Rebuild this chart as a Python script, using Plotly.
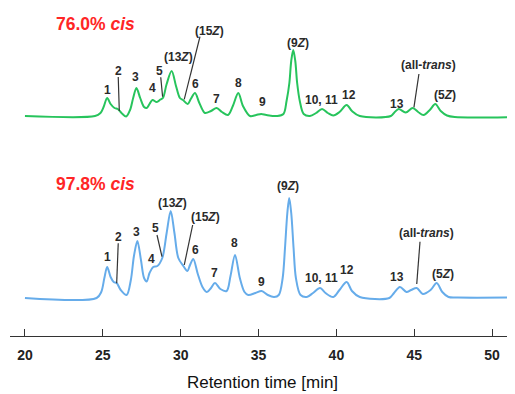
import plotly.graph_objects as go

# ---- data (time [min], signal [a.u.]) ----
green_t = [20.0, 24.5, 24.85, 25.05, 25.28, 25.5, 25.75, 25.96, 26.2, 26.5, 26.75, 26.95, 27.16,
           27.4, 27.65, 27.82, 28.0, 28.19, 28.46, 28.7, 28.86, 29.1, 29.42, 29.7, 29.95, 30.15,
           30.45, 30.65, 30.92, 31.2, 31.56, 31.95, 32.31, 32.65, 33.04, 33.35, 33.7, 34.0, 34.45,
           34.85, 35.17, 35.5, 36.2, 36.6, 36.8, 36.98, 37.1, 37.23, 37.36, 37.48, 37.65, 37.9,
           38.3, 38.7, 39.08, 39.45, 39.8, 40.2, 40.66, 41.0, 41.5, 43.5, 43.75, 44.0, 44.45,
           44.9, 45.25, 45.6, 46.0, 46.35, 46.7, 47.1, 47.6, 51.5]
green_s = [0, 0, 3, 9, 18, 12, 8, 7, 3, -0.5, 6, 18, 28,
           18, 9, 8, 12, 16, 14, 16.5, 18, 32, 45, 30, 18, 16,
           12, 17, 23, 13, 3, 5, 8, 4, 1, 10, 23, 10, 0,
           1, 2, 1, 0, 2, 15, 33, 55, 66, 55, 33, 15, 2,
           0, 3, 7, 3, 0.5, 4, 11, 5, 0, 0, 4, 7, 3.5,
           8, 4, 1, 6, 12, 5, 0.5, -1, -1]

blue_t = [20.0, 24.6, 24.9, 25.1, 25.28, 25.5, 25.7, 25.89, 26.15, 26.53, 26.8, 27.0, 27.22,
          27.45, 27.65, 27.82, 28.0, 28.24, 28.5, 28.82, 29.1, 29.36, 29.6, 29.85, 30.17, 30.43,
          30.6, 30.81, 31.1, 31.4, 31.67, 31.95, 32.2, 32.55, 32.95, 33.2, 33.49, 33.8, 34.1,
          34.34, 34.8, 35.2, 35.6, 36.0, 36.3, 36.55, 36.7, 36.85, 36.97, 37.1, 37.25, 37.4,
          37.7, 38.1, 38.5, 38.95, 39.3, 39.8, 40.2, 40.66, 41.0, 41.5, 43.4, 43.7, 44.08,
          44.5, 44.8, 45.16, 45.55, 46.05, 46.44, 46.8, 47.2, 47.8, 51.5]
blue_s = [0, 0, 6, 20, 31, 21, 16, 15, 8, 3, 18, 42, 57,
          38, 20, 16.6, 25, 31, 32, 40, 65, 87, 65, 40, 32, 27,
          33, 39, 24, 11, 6, 10, 15, 9, 7, 22, 43, 20, 6,
          3, 5, 7, 3, 1, 3, 20, 50, 85, 100, 85, 50, 20,
          3, 1, 5, 10, 5, 1, 8, 16, 7, 1, 0, 5, 11,
          6, 8, 10, 4, 8, 15, 6, 1, 0.5, 0.5]

# peak labels: (text, time, height) per trace
green_labels = [("1", 25.29, 26), ("2", 25.99, 45), ("3", 27.07, 38.7), ("4", 28.18, 27.7),
                ("5", 28.63, 45.3), ("(13<i>Z</i>)", 29.85, 58.7), ("(15<i>Z</i>)", 31.84, 85.3),
                ("6", 30.98, 31.7), ("7", 32.31, 16.7), ("8", 33.7, 32.7), ("9", 35.27, 14.3),
                ("(9<i>Z</i>)", 37.55, 72.7), ("10, 11", 39.06, 16), ("12", 40.83, 21),
                ("13", 43.87, 11.7), ("(all-<i>trans</i>)", 45.9, 51), ("(5<i>Z</i>)", 46.97, 21)]
blue_labels = [("1", 25.29, 40.7), ("2", 25.99, 61.3), ("3", 27.17, 66.3), ("4", 28.14, 38.7),
               ("5", 28.39, 70.3), ("(13<i>Z</i>)", 29.49, 95.3), ("(15<i>Z</i>)", 31.62, 80.7),
               ("6", 30.98, 48), ("7", 32.16, 24.7), ("8", 33.44, 55.3), ("9", 35.2, 16.3),
               ("(9<i>Z</i>)", 36.91, 112.3), ("10, 11", 39.06, 19.7), ("12", 40.66, 28),
               ("13", 43.87, 20.7), ("(all-<i>trans</i>)", 45.8, 65.3), ("(5<i>Z</i>)", 46.87, 23.7)]

# leader lines (t0, s0, t1, s1)
green_leaders = [(25.99, 39, 26.06, 5), (28.72, 38.7, 28.84, 19.3),
                 (31.24, 79.3, 30.23, 16.7), (45.3, 42, 44.98, 8.7)]
blue_leaders = [(25.99, 54.7, 25.89, 14.7), (28.48, 63, 28.8, 41.3),
                (30.77, 73, 30.23, 33), (45.37, 56.3, 45.16, 14)]

titles = [("76.0% <i>cis</i>", 24.5, 92, "y2"), ("97.8% <i>cis</i>", 24.5, 114, "y")]
x_ticks = [20, 25, 30, 35, 40, 45, 50]

GREEN = "#27c45c"
BLUE = "#66acea"
LABEL_FONT = dict(family="Liberation Sans, Arial", size=12, color="#2a2a2a", weight="bold")

fig = go.Figure()
fig.add_trace(go.Scatter(x=blue_t, y=blue_s, mode="lines", yaxis="y",
                         line=dict(color=BLUE, width=2, shape="spline", smoothing=0.9),
                         hoverinfo="skip", showlegend=False))
fig.add_trace(go.Scatter(x=green_t, y=green_s, mode="lines", yaxis="y2",
                         line=dict(color=GREEN, width=2, shape="spline", smoothing=0.9),
                         hoverinfo="skip", showlegend=False))

annotations = []
for labels, yref in ((green_labels, "y2"), (blue_labels, "y")):
    for text, t, s in labels:
        annotations.append(dict(text=text, x=t, y=s, xref="x", yref=yref, showarrow=False,
                                font=LABEL_FONT, xanchor="center", yanchor="middle"))
for text, t, s, yref in titles:
    annotations.append(dict(text=text, x=t, y=s, xref="x", yref=yref, showarrow=False,
                            font=dict(family="Liberation Sans, Arial", size=17.5, color="#ff2626",
                                      weight="bold"),
                            xanchor="center", yanchor="middle"))

shapes = []
for leaders, yref in ((green_leaders, "y2"), (blue_leaders, "y")):
    for t0, s0, t1, s1 in leaders:
        shapes.append(dict(type="line", x0=t0, y0=s0, x1=t1, y1=s1, xref="x", yref=yref,
                           line=dict(color="#333333", width=1.2)))

# page body has an 8 px default margin, so the figure is shrunk by 8 px in each direction
fig.update_layout(
    width=507, height=386,
    margin=dict(l=2, r=0, t=0, b=58),
    paper_bgcolor="white", plot_bgcolor="white",
    annotations=annotations, shapes=shapes,
    xaxis=dict(range=[19.04, 51.47], tickvals=x_ticks, ticks="inside", ticklen=7,
               tickcolor="#333333", showline=True, linecolor="#333333", linewidth=1,
               showgrid=False, zeroline=False,
               tickfont=dict(family="Liberation Sans, Arial", size=14, color="#222222",
                             weight="bold"),
               ticklabelstandoff=6,
               title=dict(text="Retention time [min]", standoff=14,
                          font=dict(family="Liberation Sans, Arial", size=17, color="#111111"))),
    yaxis=dict(range=[-38, 290], visible=False, fixedrange=True),
    yaxis2=dict(range=[-220, 108], visible=False, overlaying="y", fixedrange=True),
)

fig.write_html("out.html")
